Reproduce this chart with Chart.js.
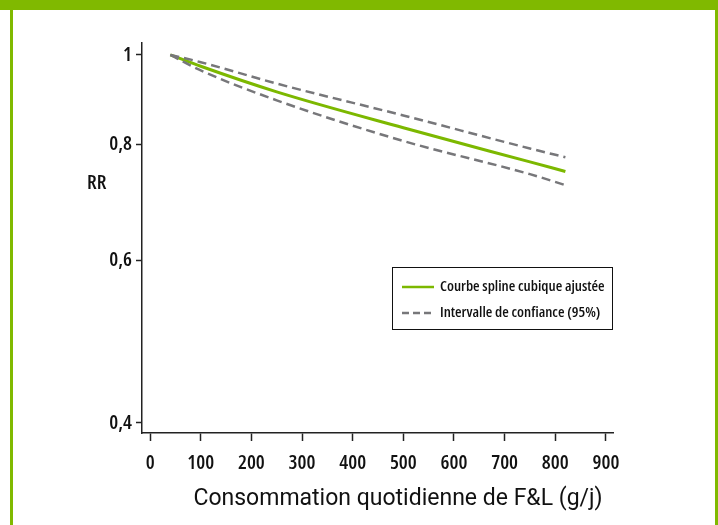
<!DOCTYPE html>
<html>
<head>
<meta charset="utf-8">
<script src="https://cdn.jsdelivr.net/npm/chart.js@4.4.0/dist/chart.umd.min.js"></script>
<style>
  html, body { margin: 0; padding: 0; background: #fff; }
  #wrap { position: relative; width: 718px; height: 525px; overflow: hidden; }
  #top { position: absolute; left: 0; top: 0; width: 718px; height: 10px; background: #80b900; }
  #left { position: absolute; left: 10px; top: 0; width: 3px; height: 525px; background: #80b900; }
  #right { position: absolute; left: 715px; top: 0; width: 3px; height: 525px; background: #80b900; }
  canvas { position: absolute; left: 0; top: 0; }
</style>
</head>
<body>
<div id="wrap">
  <canvas id="c" width="718" height="525"></canvas>
  <div id="top"></div><div id="left"></div><div id="right"></div>
</div>
<script>
// values
const doses = [40, 100, 250, 500, 750, 820];
const spline = [1.0, 0.972, 0.912, 0.834, 0.766, 0.748];
const upper = [1.0, 0.982, 0.931, 0.860, 0.792, 0.775];
const lower = [1.0, 0.962, 0.893, 0.807, 0.743, 0.723];
const xTicks = [0, 100, 200, 300, 400, 500, 600, 700, 800, 900];
const yTicks = [0.4, 0.6, 0.8, 1];

const cond = "'Open Sans'";
const green = "#7cb800";
const grey = "#77777a";

const pts = arr => doses.map((d, i) => ({ x: d, y: arr[i] }));

// legend box + axis titles drawn on the canvas
const extras = {
    id: "extras",
    afterDraw(chart) {
        const ctx = chart.ctx;
        ctx.save();
        ctx.strokeStyle = "#111";
        ctx.lineWidth = 1;
        ctx.strokeRect(392.5, 267.5, 220, 62);
        ctx.lineWidth = 2.5;
        ctx.strokeStyle = green;
        ctx.beginPath(); ctx.moveTo(402, 287); ctx.lineTo(434, 287); ctx.stroke();
        ctx.strokeStyle = grey;
        ctx.setLineDash([7, 4]);
        ctx.beginPath(); ctx.moveTo(402, 313); ctx.lineTo(434, 313); ctx.stroke();
        ctx.setLineDash([]);
        ctx.fillStyle = "#111";
        ctx.font = "600 condensed 15px " + cond;
        ctx.textBaseline = "middle";
        ctx.textAlign = "left";
        ctx.fillText("Courbe spline cubique ajustée", 440, 287);
        ctx.fillText("Intervalle de confiance (95%)", 440, 313);
        ctx.font = "600 condensed 20px " + cond;
        ctx.fillText("RR", 87, 183);
        ctx.font = "23px Roboto";
        ctx.textAlign = "center";
        ctx.fillText("Consommation quotidienne de F&L (g/j)", 398, 499);
        ctx.restore();
    }
};

const tickFont = { family: cond, size: 20, weight: "600 condensed" };

new Chart(document.getElementById("c"), {
    type: "line",
    data: {
        datasets: [
            { label: "Intervalle de confiance (95%)", data: pts(upper), borderColor: grey, borderWidth: 2.5, borderDash: [9, 5], pointRadius: 0, cubicInterpolationMode: "monotone", fill: false },
            { label: "Intervalle de confiance (95%)", data: pts(lower), borderColor: grey, borderWidth: 2.5, borderDash: [9, 5], pointRadius: 0, cubicInterpolationMode: "monotone", fill: false },
            { label: "Courbe spline cubique ajustée", data: pts(spline), borderColor: green, borderWidth: 3, pointRadius: 0, cubicInterpolationMode: "monotone", fill: false }
        ]
    },
    options: {
        responsive: false,
        animation: false,
        layout: { padding: { left: 100, top: 43, right: 105, bottom: 47 } },
        plugins: { legend: { display: false }, tooltip: { enabled: false } },
        scales: {
            x: {
                type: "linear",
                min: -16, max: 914,
                afterBuildTicks: s => { s.ticks = xTicks.map(v => ({ value: v })); },
                afterFit: s => { s.height = 45; },
                border: { color: "#222", width: 1.5 },
                grid: { drawOnChartArea: false, tickLength: 8, color: "#222", tickWidth: 1.5 },
                ticks: { color: "#111", padding: 10, maxRotation: 0, font: tickFont }
            },
            y: {
                type: "logarithmic",
                min: 0.3905, max: 1.03,
                afterBuildTicks: s => { s.ticks = yTicks.map(v => ({ value: v })); },
                afterFit: s => { s.width = 42; },
                border: { color: "#222", width: 1.5 },
                grid: { drawOnChartArea: false, tickLength: 6, color: "#222", tickWidth: 1.5 },
                ticks: {
                    color: "#111", padding: 4,
                    font: tickFont,
                    callback: v => String(v).replace(".", ",")
                }
            }
        }
    },
    plugins: [extras]
});
</script>
</body>
</html>
